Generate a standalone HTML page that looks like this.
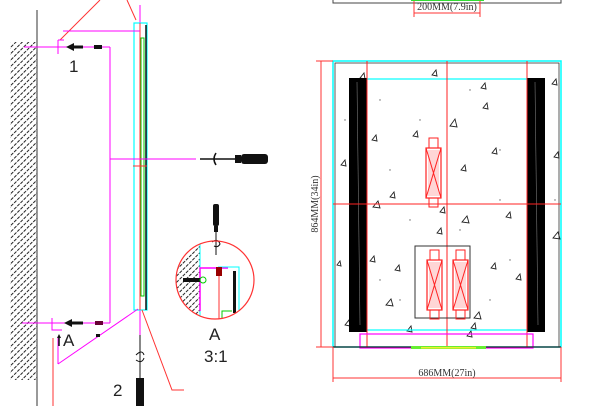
<!DOCTYPE html>
<html><head><style>html,body{margin:0;padding:0;background:#fff;width:607px;height:406px;overflow:hidden}</style></head>
<body>
<svg width="607" height="406" viewBox="0 0 607 406" xmlns="http://www.w3.org/2000/svg" font-family="Liberation Sans, sans-serif">
<defs>
<pattern id="h" width="4.5" height="4.5" patternUnits="userSpaceOnUse" patternTransform="rotate(45)">
<line x1="0" y1="0" x2="0" y2="4.5" stroke="#222" stroke-width="2" stroke-dasharray="3 1.2"/>
</pattern>
<clipPath id="c"><circle cx="215" cy="280" r="39"/></clipPath>
<g id="dev">
<rect x="0" y="10" width="15" height="50" fill="none" stroke="#f22" stroke-width="1.2"/>
<rect x="2" y="12" width="11" height="46" fill="#fbb" opacity="0.6"/>
<line x1="0" y1="10" x2="15" y2="60" stroke="#f22"/><line x1="15" y1="10" x2="0" y2="60" stroke="#f22"/>
<rect x="3" y="0" width="9" height="10" fill="none" stroke="#f22"/>
<rect x="3" y="60" width="9" height="9" fill="none" stroke="#f22"/>
</g>
</defs>
<!-- LEFT PANEL -->
<rect x="10" y="42" width="27" height="338" fill="url(#h)"/>
<line x1="37" y1="10" x2="37" y2="406" stroke="#333" stroke-width="1"/>
<line x1="60" y1="40" x2="100" y2="0" stroke="#f33"/>
<line x1="127" y1="0" x2="136" y2="20" stroke="#f33"/>
<line x1="140" y1="5" x2="140" y2="406" stroke="#f0f"/>
<rect x="134" y="23" width="13" height="287" fill="none" stroke="#0ff" stroke-width="1.2"/>
<line x1="140" y1="23" x2="140" y2="310" stroke="#f33"/>
<rect x="141" y="38" width="3" height="258" fill="none" stroke="#0c0"/>
<line x1="146" y1="25" x2="146" y2="310" stroke="#111" stroke-width="1.5"/>
<line x1="63" y1="31" x2="140" y2="31" stroke="#f0f"/>
<line x1="24" y1="47" x2="110" y2="47" stroke="#f0f"/>
<line x1="110" y1="47" x2="110" y2="323" stroke="#f0f"/>
<line x1="22" y1="323" x2="110" y2="323" stroke="#f0f"/>
<line x1="110" y1="159" x2="196" y2="159" stroke="#f0f"/>
<path d="M58 40v14M58 40h6" stroke="#f0f" fill="none"/>
<path d="M52 318v12h10" stroke="#f0f" fill="none"/>
<path d="M58 364l80-55" stroke="#f0f"/><path d="M58 364v-26" stroke="#f0f"/>
<line x1="133" y1="166" x2="147" y2="166" stroke="#f33"/>
<!-- arrows -->
<path d="M66 47l8-4v8z" fill="#111"/><rect x="73" y="45.5" width="10" height="3" fill="#111"/><rect x="94" y="45" width="8" height="4" fill="#111"/>
<path d="M64 323l8-4v8z" fill="#111"/><rect x="71" y="321.5" width="12" height="3" fill="#111"/><rect x="95" y="321" width="8" height="4" fill="#603"/>
<path d="M59 334l2 4h-4z" fill="#111"/><line x1="59" y1="338" x2="59" y2="346" stroke="#111" stroke-width="1.5"/>
<rect x="96" y="334" width="4" height="3" fill="#111"/>
<line x1="53" y1="338" x2="53" y2="406" stroke="#f33"/>
<path d="M142 310l30 80h12" stroke="#f33" fill="none"/>
<!-- screwdriver right -->
<line x1="200" y1="159" x2="235" y2="159" stroke="#111" stroke-width="1.5"/>
<path d="M216 153q-4 6 0 12" stroke="#111" fill="none" stroke-width="1.5"/>
<rect x="235" y="155" width="6" height="8" fill="#111"/><rect x="241" y="154" width="27" height="10" rx="3" fill="#111"/>
<!-- screwdriver top of circle -->
<rect x="213" y="204" width="6" height="22" rx="2" fill="#111"/><rect x="214" y="226" width="4" height="6" fill="#111"/>
<line x1="216" y1="232" x2="216" y2="255" stroke="#111"/>
<path d="M212 242q6-4 8 2q-2 4-6 2" stroke="#111" fill="none"/>
<!-- screwdriver bottom -->
<line x1="140" y1="335" x2="140" y2="378" stroke="#111"/>
<path d="M136 355q6-6 8 0M136 360q6 4 8-2" stroke="#111" fill="none"/>
<rect x="136" y="378" width="8" height="28" fill="#111"/>
<!-- circle detail -->
<g clip-path="url(#c)">
<rect x="170" y="240" width="30" height="85" fill="url(#h)"/>
<line x1="200" y1="240" x2="200" y2="321" stroke="#0ff"/>
<path d="M200 311V268h28" stroke="#f0f" stroke-width="1.5" fill="none"/>
<path d="M218 267h21v50" stroke="#0ff" fill="none"/>
<rect x="233" y="271" width="3" height="42" fill="#111"/>
<path d="M222 320v-9h10" stroke="#0c0" fill="none"/>
<line x1="219" y1="268" x2="219" y2="320" stroke="#f33"/>
<rect x="216" y="267" width="6" height="9" fill="#900"/>
<rect x="183" y="278" width="17" height="4" fill="#111"/><circle cx="203" cy="280" r="3" fill="none" stroke="#0c0"/>
</g>
<circle cx="215" cy="280" r="39" fill="none" stroke="#f33" stroke-width="1.2"/>
<g font-size="17" fill="#222">
<text x="69" y="72">1</text><text x="63" y="346">A</text>
<text x="209" y="340">A</text><text x="204" y="362">3:1</text><text x="113" y="396">2</text>
</g>
<!-- RIGHT PANEL -->
<rect x="333" y="-10" width="228" height="13" fill="none" stroke="#444"/>
<rect x="411" y="-2" width="73" height="3" fill="#3d3"/>
<path d="M414 1v16M480 1v16M414 13h66" stroke="#f33" fill="none"/>
<text x="447" y="10" font-family="Liberation Serif, serif" font-size="10" text-anchor="middle" fill="#333">200MM(7.9in)</text>
<rect x="333" y="61" width="228" height="286" fill="#fff" stroke="#0ff" stroke-width="1.5"/>
<rect x="335" y="63" width="224" height="284" fill="none" stroke="#333" stroke-width="0.8"/>
<g fill="#666">
<circle cx="380" cy="100" r=".7"/><circle cx="420" cy="120" r=".7"/><circle cx="470" cy="90" r=".7"/><circle cx="500" cy="150" r=".7"/><circle cx="390" cy="170" r=".7"/><circle cx="460" cy="230" r=".7"/><circle cx="510" cy="260" r=".7"/><circle cx="380" cy="280" r=".7"/><circle cx="400" cy="300" r=".7"/><circle cx="490" cy="300" r=".7"/><circle cx="345" cy="120" r=".7"/><circle cx="555" cy="200" r=".7"/><circle cx="500" cy="200" r=".7"/><circle cx="410" cy="220" r=".7"/>
</g>
<g fill="none" stroke="#222" stroke-width="0.9">
<path d="M360 78l4-5 1 6z"/><path d="M432 75l4-5 1 6z"/><path d="M481 88l4-5 1 6z"/><path d="M483 108l4-5 1 6z"/><path d="M450 126l5-7 2 8z"/><path d="M413 136l4-5 1 6z"/><path d="M372 140l4-5 1 6z"/><path d="M492 153l4-5 1 6z"/><path d="M461 170l4-5 1 6z"/><path d="M341 165l4-5 1 6z"/><path d="M390 197l4-5 1 6z"/><path d="M373 207l5-6 2 7z"/><path d="M440 212l4-5 1 6z"/><path d="M462 222l5-6 2 7z"/><path d="M506 217l4-5 1 6z"/><path d="M437 233l4-5 1 6z"/><path d="M370 261l4-5 1 6z"/><path d="M395 270l4-5 1 6z"/><path d="M491 268l4-5 1 6z"/><path d="M516 279l4-5 1 6z"/><path d="M386 305l5-6 2 7z"/><path d="M474 318l5-6 2 7z"/><path d="M471 328l4-5 1 6z"/><path d="M407 331l4-5 1 6z"/><path d="M467 336l4-5 1 6z"/><path d="M554 157l4-5 1 6z"/><path d="M553 238l5-6 2 7z"/><path d="M552 84l4-5 1 6z"/><path d="M337 265l3-4 1 5z"/><path d="M345 325l4-5 1 6z"/>
</g>
<rect x="351" y="79" width="192" height="251" fill="none" stroke="#0ff" stroke-width="1.2"/>
<rect x="349" y="78" width="18" height="254" fill="#000"/>
<rect x="527" y="78" width="18" height="254" fill="#000"/>
<line x1="357" y1="82" x2="360" y2="325" stroke="#777" stroke-width=".6"/>
<line x1="535" y1="82" x2="538" y2="325" stroke="#777" stroke-width=".6"/>
<line x1="367" y1="61" x2="367" y2="347" stroke="#f22"/>
<line x1="447" y1="61" x2="447" y2="347" stroke="#f22"/>
<line x1="527" y1="61" x2="527" y2="347" stroke="#f22"/>
<line x1="333" y1="204" x2="561" y2="204" stroke="#f22"/>
<use href="#dev" x="426" y="138"/>
<rect x="415" y="246" width="55" height="72" fill="none" stroke="#333"/>
<use href="#dev" x="427" y="250"/>
<use href="#dev" x="453" y="250"/>
<rect x="360" y="334" width="173" height="14" fill="none" stroke="#f0f" stroke-width="1.2"/>
<line x1="333" y1="347" x2="561" y2="347" stroke="#222" stroke-width="1.2"/>
<rect x="411" y="346" width="75" height="3" fill="#6e3"/>
<rect x="421" y="347" width="55" height="1.5" fill="#ee3"/>
<path d="M321 61v286M316 61h17M316 347h17" stroke="#f33" fill="none"/>
<text transform="translate(318,204) rotate(-90)" font-family="Liberation Serif, serif" font-size="10" text-anchor="middle" fill="#333">864MM(34in)</text>
<path d="M333 347v35M561 347v35M333 378h228" stroke="#f33" fill="none"/>
<text x="447" y="376" font-family="Liberation Serif, serif" font-size="10" text-anchor="middle" fill="#333">686MM(27in)</text>
</svg>
</body></html>
